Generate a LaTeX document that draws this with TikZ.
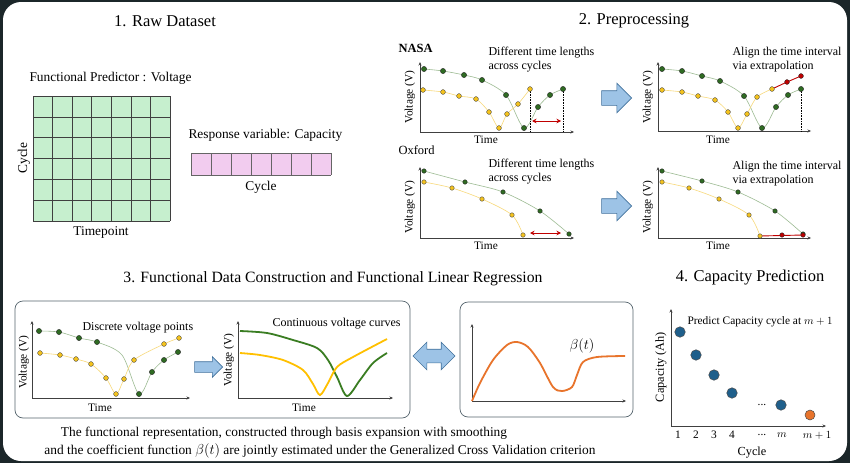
\documentclass[tikz,border=0pt]{standalone}
\usepackage{fontspec}
\setmainfont{Liberation Serif}
\usetikzlibrary{shapes.arrows,arrows.meta}
\definecolor{framecol}{HTML}{1B2629}
\definecolor{gridgreen}{HTML}{C6EFCE}
\definecolor{gridpink}{HTML}{F2CCEF}
\definecolor{gridline}{HTML}{3F3F3F}
\definecolor{axisgray}{HTML}{404040}
\definecolor{ptgreen}{HTML}{2F6B22}
\definecolor{lngreen}{HTML}{9DBB93}
\definecolor{ptyellow}{HTML}{F5C31C}
\definecolor{lnyellow}{HTML}{F8D97A}
\definecolor{ptred}{HTML}{C00000}
\definecolor{crvgreen}{HTML}{3A7D22}
\definecolor{crvyellow}{HTML}{FFC000}
\definecolor{crvorange}{HTML}{E8742C}
\definecolor{capblue}{HTML}{1F5F8B}
\definecolor{arrowfill}{HTML}{9DC3E6}
\definecolor{arrowline}{HTML}{41719C}
\definecolor{boxline}{HTML}{56656E}
\begin{document}
\begin{tikzpicture}[x=1pt,y=-1pt,
    font=\fontsize{12}{14}\selectfont,
    title/.style={font=\fontsize{16.5}{19}\selectfont},
    lbl/.style={font=\fontsize{13.4}{16}\selectfont},
    axlbl/.style={font=\fontsize{11.4}{13}\selectfont},
    ax/.style={-{Stealth[length=3.5pt,width=3pt]},line width=0.6pt,draw=axisgray},
    gap/.style={{Stealth[length=4.5pt,width=4.5pt]}-{Stealth[length=4.5pt,width=4.5pt]},ptred,line width=1pt},
    gpt/.style={circle,draw=black!85,fill=ptgreen,line width=0.4pt,inner sep=0pt,minimum size=5.2pt},
    ypt/.style={circle,draw=black!70,fill=ptyellow,line width=0.4pt,inner sep=0pt,minimum size=4.8pt},
    rpt/.style={circle,draw=black!85,fill=ptred,line width=0.4pt,inner sep=0pt,minimum size=4.8pt},
    blockarrow/.style={single arrow,draw=arrowline,fill=arrowfill,line width=0.6pt,
        inner sep=7pt,single arrow head extend=7.5pt,minimum height=30pt},
    twoway/.style={double arrow,draw=arrowline,fill=arrowfill,line width=0.6pt,
        inner sep=6.5pt,double arrow head extend=7pt,minimum height=42pt},
    rounded box/.style={draw=boxline,line width=0.7pt,rounded corners=8pt}]

  % frame
  \fill[framecol] (0,0) rectangle (850,463);
  \fill[white,rounded corners=18pt] (3,2) rectangle (847,461);

  % 1. raw dataset
  \node[title] (t1) at (165,21) {1. Raw Dataset};
  \node[lbl,anchor=west] (fpred) at (26,78) {Functional Predictor : Voltage};
  \fill[gridgreen] (33,96) rectangle (170,221);
  \foreach \i in {0,...,7}
    \draw[gridline,line width=0.5pt] ({33+\i*19.57},96) -- ({33+\i*19.57},221);
  \foreach \j in {0,...,6}
    \draw[gridline,line width=0.5pt] (33,{96+\j*20.83}) -- (170,{96+\j*20.83});
  \node[lbl,rotate=90] (gcycle) at (24,158) {Cycle};
  \node[lbl] (gtime) at (101,232) {Timepoint};
  \node[lbl,anchor=west] (resp) at (185,135) {Response variable: Capacity};
  \fill[gridpink] (191,153) rectangle (331,175);
  \foreach \i in {0,...,7}
    \draw[gridline!80,line width=0.5pt] ({191+\i*20},153) -- ({191+\i*20},175);
  \draw[gridline!80,line width=0.5pt] (191,153) -- (331,153) (191,175) -- (331,175);
  \node[lbl] (pcycle) at (261,187) {Cycle};

  % 2. preprocessing
  \node[title] (t2) at (634,21) {2. Preprocessing};
  \node[font=\fontsize{12.5}{14}\selectfont\bfseries,anchor=west] (nasa) at (395,48) {NASA};
  \node[font=\fontsize{12.5}{14}\selectfont,anchor=west] (oxford) at (395,150) {Oxford};

  % NASA, raw
  \coordinate (n1o) at (420,132);
  \draw[ax] (n1o) -- (420,62);
  \draw[ax] (n1o) -- (574,132);
  \draw[lngreen,line width=0.6pt] plot[smooth,tension=0.5] coordinates
    {(424,69) (443,71) (464,75) (482,80) (506,95) (524,128) (538,107) (550,95) (563,89)};
  \draw[lnyellow,line width=0.6pt] plot[smooth,tension=0.5] coordinates
    {(423,90) (443,92) (459,96) (476,99) (489,112) (499,128) (507,114) (518,104) (530,89)};
  \draw[densely dotted,line width=0.6pt] (530,89) -- (530,132) (563,89) -- (563,132);
  \coordinate (gapl) at (532,121);
  \coordinate (gapr) at (561,121);
  \draw[gap] (gapl) -- (gapr);
  \foreach \p in {(424,69),(443,71),(464,75),(482,80),(506,95),(524,128),(538,107),(550,95),(563,89)}
    \node[gpt] at \p {};
  \foreach \p in {(423,90),(443,92),(459,96),(476,99),(489,112),(499,128),(507,114),(518,104),(530,89)}
    \node[ypt] at \p {};
  \node[axlbl,rotate=90] (n1v) at (410,97) {Voltage (V)};
  \node[axlbl] (n1t) at (486,140) {Time};
  \node[anchor=west,align=left] (n1txt) at (485,60) {Different time lengths\\across cycles};

  \node[blockarrow] (nasaarrow) at (613,98) {};

  % NASA, aligned
  \coordinate (n2o) at (658,131);
  \draw[ax] (n2o) -- (658,62);
  \draw[ax] (n2o) -- (811,131);
  \draw[lngreen,line width=0.6pt] plot[smooth,tension=0.5] coordinates
    {(662,69) (682,71) (702,76) (720,81) (744,96) (762,128) (776,107) (788,95) (801,89)};
  \draw[lnyellow,line width=0.6pt] plot[smooth,tension=0.5] coordinates
    {(662,90) (682,92) (698,96) (715,100) (728,112) (738,128) (747,114) (757,97) (772,89)};
  \draw[ptred,line width=0.9pt] (772,89) -- (787,82) -- (801,76);
  \draw[densely dotted,line width=0.6pt] (801,89) -- (801,131);
  \foreach \p in {(662,69),(682,71),(702,76),(720,81),(744,96),(762,128),(776,107),(788,95),(801,89)}
    \node[gpt] at \p {};
  \foreach \p in {(662,90),(682,92),(698,96),(715,100),(728,112),(738,128),(747,114),(757,97),(772,89)}
    \node[ypt] at \p {};
  \foreach \p in {(787,82),(801,76)}
    \node[rpt] at \p {};
  \node[axlbl,rotate=90] (n2v) at (648,97) {Voltage (V)};
  \node[axlbl] (n2t) at (718,140) {Time};
  \node[anchor=west,align=left] (n2txt) at (729,60) {Align the time interval\\via extrapolation};

  % Oxford, raw
  \coordinate (o1o) at (420,238);
  \draw[ax] (o1o) -- (420,167);
  \draw[ax] (o1o) -- (574,238);
  \draw[lngreen,line width=0.6pt] plot[smooth] coordinates
    {(424,171) (465,182) (503,192) (540,211) (569,234)};
  \draw[lnyellow,line width=0.6pt] plot[smooth] coordinates
    {(424,182) (452,188) (482,199) (512,215) (523,235)};
  \coordinate (ogapl) at (530,233);
  \coordinate (ogapr) at (561,233);
  \draw[gap] (ogapl) -- (ogapr);
  \foreach \p in {(424,171),(465,182),(503,192),(540,211),(569,234)}
    \node[gpt,minimum size=4.5pt] at \p {};
  \foreach \p in {(424,182),(452,188),(482,199),(512,215),(523,235)}
    \node[ypt,minimum size=4.5pt] at \p {};
  \node[axlbl,rotate=90] (o1v) at (410,207) {Voltage (V)};
  \node[axlbl] (o1t) at (486,246) {Time};
  \node[anchor=west,align=left] (o1txt) at (485,172) {Different time lengths\\across cycles};

  \node[blockarrow] (oxfarrow) at (613,206) {};

  % Oxford, aligned
  \coordinate (o2o) at (658,238);
  \draw[ax] (o2o) -- (658,167);
  \draw[ax] (o2o) -- (811,238);
  \draw[lngreen,line width=0.6pt] plot[smooth] coordinates
    {(662,171) (702,181) (738,192) (775,211) (803,234)};
  \draw[lnyellow,line width=0.6pt] plot[smooth] coordinates
    {(662,182) (689,188) (719,199) (749,215) (760,236)};
  \draw[ptred,line width=0.9pt] (760,236) -- (803,235);
  \foreach \p in {(662,171),(702,181),(738,192),(775,211),(803,234)}
    \node[gpt,minimum size=4.5pt] at \p {};
  \foreach \p in {(662,182),(689,188),(719,199),(749,215),(760,236)}
    \node[ypt,minimum size=4.5pt] at \p {};
  \foreach \p in {(782,235),(803,235)}
    \node[rpt,minimum size=4.5pt] at \p {};
  \node[axlbl,rotate=90] (o2v) at (648,207) {Voltage (V)};
  \node[axlbl] (o2t) at (718,246) {Time};
  \node[anchor=west,align=left] (o2txt) at (729,174) {Align the time interval\\via extrapolation};

  % 3. functional data construction
  \node[title,font=\fontsize{15.7}{19}\selectfont] (t3) at (333,279) {3. Functional Data Construction and Functional Linear Regression};
  \draw[rounded box] (15,301) rectangle (410,418);
  \draw[rounded box] (460,302) rectangle (633,417);

  % discrete points
  \coordinate (f1o) at (32,398);
  \draw[ax] (f1o) -- (32,321);
  \draw[ax] (f1o) -- (190,398);
  \draw[lngreen,line width=0.6pt] plot[smooth,tension=0.5] coordinates
    {(39,331) (59,332) (79,338) (97,342) (122,355) (139,394) (152,372) (164,360) (178,352)};
  \draw[lnyellow,line width=0.6pt] plot[smooth,tension=0.5] coordinates
    {(40,353) (60,355) (76,359) (91,364) (106,378) (116,394) (124,379) (134,360) (164,344) (179,338)};
  \foreach \p in {(39,331),(59,332),(79,338),(97,342),(139,394),(152,372),(164,360),(178,352)}
    \node[gpt] at \p {};
  \foreach \p in {(40,353),(60,355),(76,359),(91,364),(106,378),(116,394),(124,379),(134,360),(164,344),(179,338)}
    \node[ypt] at \p {};
  \node[axlbl,rotate=90] (f1v) at (24,362) {Voltage (V)};
  \node[axlbl] (f1t) at (100,408) {Time};
  \node[anchor=west] (f1txt) at (79,328) {Discrete voltage points};

  \node[blockarrow,inner sep=5pt,single arrow head extend=5pt,minimum height=28pt] (fdarrow) at (206,367) {};

  % continuous curves
  \coordinate (f2o) at (238,398);
  \draw[ax] (f2o) -- (238,321);
  \draw[ax] (f2o) -- (393,398);
  \draw[crvgreen,line width=1.8pt] plot[smooth] coordinates
    {(240,331) (267,333) (293,340) (317,348) (328,360) (337,377) (347,396) (360,380) (373,363) (387,353)};
  \draw[crvyellow,line width=1.8pt] plot[smooth] coordinates
    {(240,353) (260,355) (283,360) (303,370) (313,384) (320,395) (328,383) (337,367) (353,357) (387,339)};
  \node[axlbl,rotate=90] (f2v) at (229,360) {Voltage (V)};
  \node[axlbl] (f2t) at (304,408) {Time};
  \node[anchor=west] (f2txt) at (269,324) {Continuous voltage curves};

  \node[twoway] (regarrow) at (434,356) {};

  % coefficient function
  \coordinate (f3o) at (472,401);
  \draw[ax] (f3o) -- (472,324);
  \draw[ax] (f3o) -- (626,401);
  \draw[crvorange,line width=1.8pt] plot[smooth] coordinates
    {(472,401) (480,383) (493,360) (507,345) (517,342) (528,347) (540,363) (553,387) (562,391) (572,387) (577,375) (583,362) (597,357) (625,356)};
  \node[font=\fontsize{13.4}{15}\selectfont] (beta) at (582,346) {$\beta(t)$};

  \node[lbl] (cap1) at (284,433) {The functional representation, constructed through basis expansion with smoothing};
  \node[lbl] (cap2) at (320,451) {and the coefficient function $\beta(t)$ are jointly estimated under the Generalized Cross Validation criterion};

  % 4. capacity prediction
  \node[title] (t4) at (750,278) {4. Capacity Prediction};
  \coordinate (co) at (671,426);
  \draw[ax] (co) -- (671,309);
  \draw[ax] (co) -- (826,426);
  \foreach \p/\n in {(680,332)/c1,(696,355)/c2,(714,375)/c3,(732,393)/c4,(781,405)/cm}
    \node[circle,draw=black!70,fill=capblue,line width=0.5pt,inner sep=0pt,minimum size=10.5pt] (\n) at \p {};
  \node[circle,draw=black!70,fill=crvorange,line width=0.5pt,inner sep=0pt,minimum size=10pt] (cnext) at (810,415) {};
  \node[axlbl] (cdots) at (762,405) {...};
  \foreach \x/\t [count=\k] in {678/1,696/2,714/3,732/4,762/{...},782/$m$,817/$m+1$}
    \node[axlbl] (tick\k) at (\x,435) {\t};
  \node[font=\fontsize{12.3}{14}\selectfont] (ccycle) at (752,453) {Cycle};
  \node[font=\fontsize{12.3}{14}\selectfont,rotate=90] (cy) at (661,367) {Capacity (Ah)};
  \node[axlbl,anchor=west] (ctxt) at (684,322) {Predict Capacity cycle at $m+1$};
\end{tikzpicture}
\end{document}
